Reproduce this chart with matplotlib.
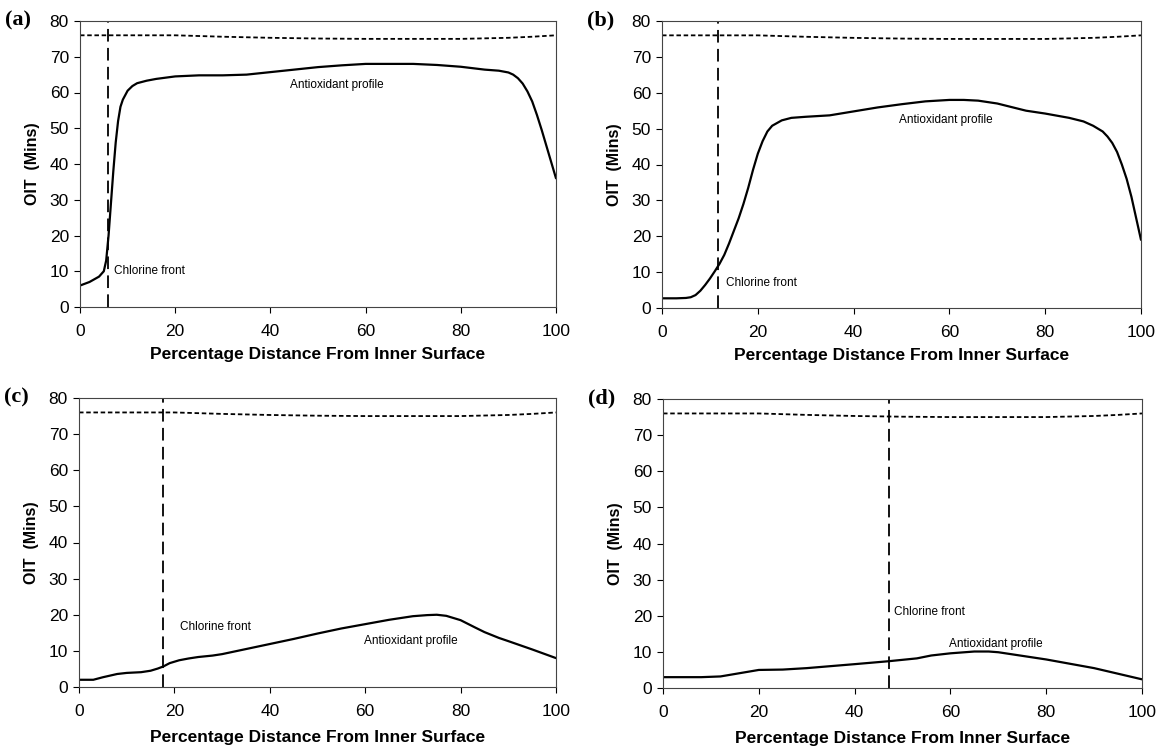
import matplotlib
matplotlib.use("Agg")
import matplotlib.pyplot as plt

# ---------------- data ----------------
x_a = [0, 2, 4, 5, 5.5, 6, 6.5, 7, 7.5, 8, 8.5, 9, 10, 11, 12, 14, 16, 20, 25, 30, 35, 40, 45, 50, 55, 60, 65, 70, 75, 80, 85, 88, 90, 91, 92, 93, 94, 95, 96, 97, 98, 99, 100]
y_a = [6, 7, 8.5, 10, 13, 20, 29, 38, 46, 52, 56, 58, 60.5, 61.8, 62.6, 63.3, 63.8, 64.5, 64.8, 64.8, 65, 65.7, 66.4, 67.1, 67.6, 68, 68, 68, 67.7, 67.2, 66.4, 66.1, 65.6, 65.0, 64.0, 62.5, 60.3, 57.5, 53.7, 49.5, 45, 40.5, 36]

x_b = [0, 3, 5, 6, 7, 8, 9, 10, 11, 12, 13, 14, 15, 16, 17, 18, 19, 20, 21, 22, 23, 25, 27, 30, 35, 40, 45, 50, 55, 60, 63, 66, 70, 73, 76, 80, 85, 88, 90, 92, 93, 94, 95, 96, 97, 98, 99, 100]
y_b = [2.7, 2.7, 2.8, 3.0, 3.6, 4.8, 6.4, 8.2, 10.2, 12.3, 14.8, 18, 21.5, 25, 29, 33.5, 38.5, 43, 46.5, 49.2, 50.8, 52.3, 53.0, 53.3, 53.7, 54.8, 55.9, 56.8, 57.6, 58, 58, 57.8, 57, 56, 55, 54.2, 53, 52, 50.8, 49.2, 47.8, 46, 43.5, 40, 36, 31, 25, 19]

x_c = [0, 3, 5, 8, 10, 13, 15, 16.5, 17.7, 19, 21, 23, 25, 28, 30, 35, 40, 45, 50, 55, 60, 65, 70, 73, 75, 77, 80, 83, 85, 88, 90, 95, 100]
y_c = [2, 2, 2.7, 3.6, 3.9, 4.1, 4.5, 5.1, 5.7, 6.6, 7.4, 7.9, 8.3, 8.7, 9.1, 10.5, 11.9, 13.3, 14.8, 16.2, 17.4, 18.6, 19.6, 19.9, 20, 19.7, 18.5, 16.5, 15.2, 13.6, 12.7, 10.4, 8]

x_d = [0, 8, 12, 20, 25, 30, 40, 47, 53, 56, 60, 65, 68, 70, 80, 90, 100]
y_d = [3, 3, 3.2, 5, 5.1, 5.5, 6.6, 7.4, 8.2, 9, 9.6, 10.1, 10.1, 9.9, 7.9, 5.5, 2.4]

# upper (virgin pipe) reference profile, same in all panels
x_ref = [0, 10, 20, 30, 40, 50, 60, 70, 80, 90, 95, 100]
y_ref = [76, 76, 76, 75.6, 75.3, 75.1, 75, 75, 75, 75.3, 75.6, 76]

chlorine_front = [5.8, 11.6, 17.7, 47.1]
panel_labels = ["(a)", "(b)", "(c)", "(d)"]
profiles = [(x_a, y_a), (x_b, y_b), (x_c, y_c), (x_d, y_d)]

x_ticks = [0, 20, 40, 60, 80, 100]
y_ticks = [0, 10, 20, 30, 40, 50, 60, 70, 80]

# annotation anchors (data coords): chlorine label, antioxidant label
chlorine_text_pos = [(7.2, 10), (13.3, 7), (21.1, 16.5), (48.2, 21)]
anti_text_pos = [(44.2, 62), (49.4, 52.5), (59.7, 12.6), (59.8, 12.3)]

# ---------------- layout ----------------
W, H = 1158, 747
fig = plt.figure(figsize=(W / 100, H / 100), dpi=100)
fig.patch.set_facecolor("white")

boxes = [
    (80, 21, 556, 307),
    (662, 21, 1141, 308),
    (79, 398, 556, 687),
    (663, 399, 1142, 688),
]
xlabel_pads = [6, 6, 8, 8]

sans = ["Liberation Sans", "DejaVu Sans"]
serif = ["Liberation Serif", "DejaVu Serif"]

for i, (x0, y0, x1, y1) in enumerate(boxes):
    ax = fig.add_axes([x0 / W, 1 - y1 / H, (x1 - x0) / W, (y1 - y0) / H])
    xs, ys = profiles[i]
    ax.plot(xs, ys, color="black", lw=1.6, solid_capstyle="round")
    ax.plot(x_ref, y_ref, color="black", lw=1.3, linestyle=(0, (2.5, 1.5)))
    ax.plot([chlorine_front[i], chlorine_front[i]], [0, 80], color="black",
            lw=1.3, linestyle=(0, (7, 3.5)))
    ax.set_xlim(0, 100)
    ax.set_ylim(0, 80)
    ax.set_xticks(x_ticks)
    ax.set_yticks(y_ticks)
    ax.tick_params(direction="out", length=4, width=0.8, labelsize=12.5,
                   colors="black")
    ax.tick_params(axis="x", pad=8)
    ax.tick_params(axis="y", pad=4)
    for lab in ax.get_xticklabels() + ax.get_yticklabels():
        lab.set_family(sans)
    for sp in ax.spines.values():
        sp.set_linewidth(0.8)
        sp.set_color("#444444")
    ax.set_xlabel("Percentage Distance From Inner Surface", family=sans,
                  fontweight="bold", fontsize=12.5, labelpad=xlabel_pads[i])
    ax.set_ylabel("OIT  (Mins)", family=sans, fontweight="bold",
                  fontsize=11.5, labelpad=7)
    cx, cy = chlorine_text_pos[i]
    ax.text(cx, cy, "Chlorine front", family=sans, fontsize=8.5,
            va="center", ha="left")
    axx, axy = anti_text_pos[i]
    ax.text(axx, axy, "Antioxidant profile", family=sans, fontsize=8.5,
            va="center", ha="left")
    # panel label
    fig.text((x0 - 75) / W, 1 - (y0 - 1) / H, panel_labels[i], family=serif,
             fontweight="bold", fontsize=16, va="center", ha="left")

fig.savefig("out.png", dpi=100, facecolor="white")
